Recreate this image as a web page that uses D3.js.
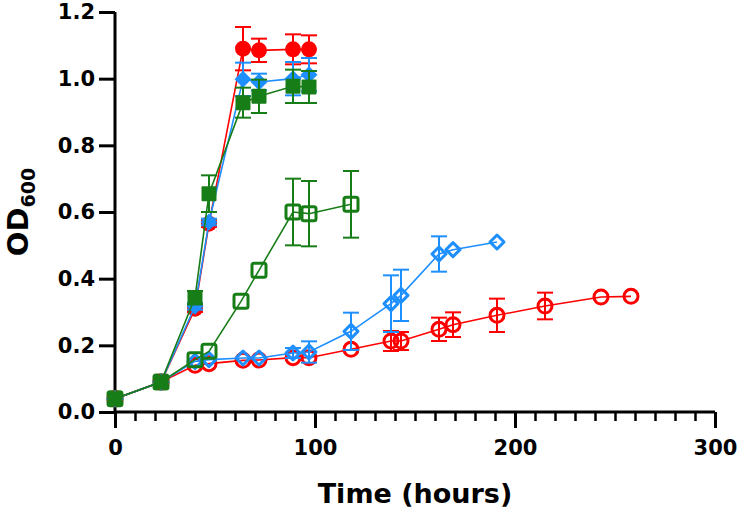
<!DOCTYPE html>
<html>
<head>
<meta charset="utf-8">
<script src="https://cdn.jsdelivr.net/npm/d3@7/dist/d3.min.js"></script>
<style>
  html, body { margin: 0; padding: 0; background: #fff; }
  svg { display: block; }
  text { font-family: "DejaVu Sans", sans-serif; font-weight: bold; fill: #000; }
</style>
</head>
<body>
<svg id="chart" width="739" height="519"></svg>
<script>
// ---------- data ----------
const timesFilled = [0, 23, 40, 47, 64, 72, 89, 97];
const redFilled   = [0.04, 0.09, 0.31, 0.565, 1.09, 1.085, 1.088, 1.088];
const redFilledErr   = [0, 0, 0.01, 0.01, 0.065, 0.035, 0.045, 0.042];
const blueFilled  = [0.04, 0.09, 0.317, 0.57, 0.998, 0.99, 1.0, 1.012];
const blueFilledErr  = [0, 0, 0.01, 0.01, 0.05, 0.025, 0.05, 0.05];
const greenFilled = [0.04, 0.09, 0.343, 0.655, 0.928, 0.947, 0.977, 0.975];
const greenFilledErr = [0, 0, 0.02, 0.055, 0.045, 0.05, 0.05, 0.048];

const timesGreenOpen = [0, 23, 40, 47, 63, 72, 89, 97, 118];
const greenOpen    = [0.04, 0.09, 0.157, 0.182, 0.332, 0.425, 0.60, 0.595, 0.623];
const greenOpenErr = [0, 0, 0, 0, 0, 0, 0.10, 0.098, 0.10];

const timesBlueOpen = [0, 23, 40, 47, 64, 72, 89, 97, 118, 138, 143, 162, 169, 191];
const blueOpen    = [0.04, 0.09, 0.152, 0.157, 0.162, 0.162, 0.177, 0.18, 0.242, 0.325, 0.35, 0.474, 0.487, 0.51];
const blueOpenErr = [0, 0, 0, 0, 0, 0, 0.015, 0.032, 0.056, 0.085, 0.077, 0.053, 0, 0];

const timesRedOpen = [0, 23, 40, 47, 64, 72, 89, 97, 118, 138, 143, 162, 169, 191, 215, 243, 258];
const redOpen    = [0.04, 0.09, 0.14, 0.145, 0.155, 0.156, 0.163, 0.163, 0.188, 0.213, 0.213, 0.248, 0.262, 0.29, 0.318, 0.345, 0.347];
const redOpenErr = [0, 0, 0, 0, 0, 0, 0, 0, 0, 0.03, 0.027, 0.035, 0.037, 0.05, 0.04, 0, 0];

const xMajorTicks = [0, 100, 200, 300];
const yTicks = [0, 0.2, 0.4, 0.6, 0.8, 1.0, 1.2];
const xTitle = "Time (hours)";
const yTitleMain = "OD";
const yTitleSub = "600";

// ---------- styles ----------
const RED = "#ff0000", BLUE = "#1e8fff", GREEN = "#177d17";

const svg = d3.select("#chart");
const x = d3.scaleLinear().domain([0, 300]).range([115, 715]);
const y = d3.scaleLinear().domain([0, 1.2]).range([412, 12]);

// ---------- axes ----------
const xAxisG = svg.append("g").attr("transform", `translate(0,${y(0)})`);
xAxisG.call(d3.axisBottom(x).tickValues(d3.range(0, 301, 10)).tickSize(9).tickFormat(""))
  .call(g => g.select(".domain").remove());
xAxisG.call(g => g.selectAll(".tick line").attr("stroke", "#000").attr("stroke-width", 2.5));
const xMajor = svg.append("g").attr("transform", `translate(0,${y(0)})`)
  .call(d3.axisBottom(x).tickValues(xMajorTicks).tickSize(16).tickPadding(12).tickFormat(d3.format("d")));
xMajor.select(".domain").attr("stroke", "#000").attr("stroke-width", 3)
  .attr("d", `M${x(0)},0H${x(300)}`);
xMajor.selectAll(".tick line").attr("stroke", "#000").attr("stroke-width", 3);
xMajor.selectAll(".tick text").style("font-family", "DejaVu Sans").style("font-weight", "bold")
  .style("font-size", "21px").attr("fill", "#000");

const yAxisG = svg.append("g").attr("transform", `translate(${x(0)},0)`)
  .call(d3.axisLeft(y).tickValues(yTicks).tickSize(16).tickPadding(4).tickFormat(d3.format(".1f")));
yAxisG.select(".domain").attr("stroke", "#000").attr("stroke-width", 3)
  .attr("d", `M0,${y(1.2)}V${y(0)}`);
yAxisG.selectAll(".tick line").attr("stroke", "#000").attr("stroke-width", 3);
yAxisG.selectAll(".tick text").style("font-family", "DejaVu Sans").style("font-weight", "bold")
  .style("font-size", "21px").attr("fill", "#000");

// titles
svg.append("text").attr("x", (x(0) + x(300)) / 2).attr("y", 503)
  .attr("text-anchor", "middle").style("font-size", "27px").text(xTitle);
const yt = svg.append("text")
  .attr("transform", `translate(28,${(y(0) + y(1.2)) / 2}) rotate(-90)`)
  .attr("text-anchor", "middle").style("font-size", "29px");
yt.append("tspan").text(yTitleMain);
yt.append("tspan").attr("dy", 7).style("font-size", "19px").text(yTitleSub);

// ---------- series ----------
function drawSeries(times, vals, errs, color, shape, filled) {
  const data = times.map((t, i) => ({ t, v: vals[i], e: errs[i] }));
  const g = svg.append("g");
  g.append("path").datum(data)
    .attr("fill", "none").attr("stroke", color).attr("stroke-width", 1.6)
    .attr("d", d3.line().x(d => x(d.t)).y(d => y(d.v)));
  const eb = g.selectAll(".eb").data(data.filter(d => d.e > 0)).enter().append("g")
    .attr("stroke", color).attr("stroke-width", 2).attr("fill", "none");
  eb.append("line").attr("x1", d => x(d.t)).attr("x2", d => x(d.t))
    .attr("y1", d => y(d.v + d.e)).attr("y2", d => y(d.v - d.e));
  eb.append("line").attr("x1", d => x(d.t) - 8).attr("x2", d => x(d.t) + 8)
    .attr("y1", d => y(d.v + d.e)).attr("y2", d => y(d.v + d.e));
  eb.append("line").attr("x1", d => x(d.t) - 8).attr("x2", d => x(d.t) + 8)
    .attr("y1", d => y(d.v - d.e)).attr("y2", d => y(d.v - d.e));
  const m = g.selectAll(".m").data(data).enter();
  const fill = filled ? color : "none";
  const stroke = filled ? "none" : color;
  const sw = filled ? 0 : 3;
  if (shape === "circle") {
    m.append("circle").attr("cx", d => x(d.t)).attr("cy", d => y(d.v))
      .attr("r", filled ? 8 : 7).attr("fill", fill).attr("stroke", stroke).attr("stroke-width", sw);
  } else if (shape === "square") {
    const s = filled ? 15 : 14;
    m.append("rect").attr("x", d => x(d.t) - s / 2).attr("y", d => y(d.v) - s / 2)
      .attr("width", s).attr("height", s).attr("rx", filled ? 1 : 2)
      .attr("fill", fill).attr("stroke", stroke).attr("stroke-width", sw);
  } else {
    const h = filled ? 8.5 : 7;
    m.append("path").attr("d", d => {
      const cx = x(d.t), cy = y(d.v);
      return `M${cx},${cy - h}L${cx + h},${cy}L${cx},${cy + h}L${cx - h},${cy}Z`;
    }).attr("fill", fill).attr("stroke", stroke).attr("stroke-width", sw)
      .attr("stroke-linejoin", "round");
  }
}

drawSeries(timesRedOpen, redOpen, redOpenErr, RED, "circle", false);
drawSeries(timesBlueOpen, blueOpen, blueOpenErr, BLUE, "diamond", false);
drawSeries(timesGreenOpen, greenOpen, greenOpenErr, GREEN, "square", false);
drawSeries(timesFilled, redFilled, redFilledErr, RED, "circle", true);
drawSeries(timesFilled, blueFilled, blueFilledErr, BLUE, "diamond", true);
drawSeries(timesFilled, greenFilled, greenFilledErr, GREEN, "square", true);
</script>
</body>
</html>
